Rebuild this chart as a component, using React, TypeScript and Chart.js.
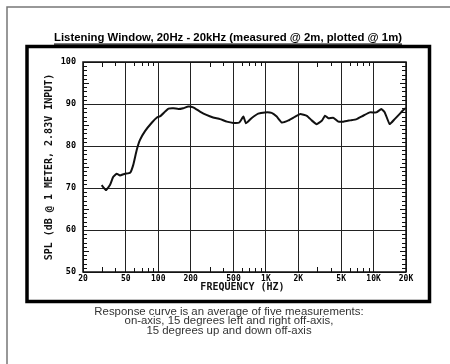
import React, { useEffect, useRef } from "react";
import { Chart, registerables } from "chart.js";

Chart.register(...registerables);

const chartTitle = "Listening Window, 20Hz - 20kHz (measured @ 2m, plotted @ 1m)";
const yAxisTitle = "SPL (dB @ 1 METER, 2.83V INPUT)";
const xAxisTitle = "FREQUENCY (HZ)";
const captionLines = [
  "Response curve is an average of five measurements:",
  "on-axis, 15 degrees left and right off-axis,",
  "15 degrees up and down off-axis",
];

const xTickValues = [20, 50, 100, 200, 500, 1000, 2000, 5000, 10000, 20000];
const xTickLabels = ["20", "50", "100", "200", "500", "1K", "2K", "5K", "10K", "20K"];
const xMinorTicks = [30, 40, 60, 70, 80, 90, 300, 400, 600, 700, 800, 900, 3000, 4000, 6000, 7000, 8000, 9000];
const yTickValues = [50, 60, 70, 80, 90, 100];

const frequencies = [
  29.8, 32.7, 35.6, 38.1, 41.1, 44.1, 49.2, 54.7, 58.6, 63, 67.5, 75.6, 87.4, 97.3, 104.5, 115.9,
  124.5, 138.5, 153.6, 170.6, 190, 211, 244, 280, 323, 375, 433, 498, 566, 618, 652, 734, 848,
  978, 1130, 1260, 1405, 1620, 1870, 2085, 2400, 2660, 2960, 3300, 3540, 3800, 4230, 4710, 5240,
  6040, 6960, 8000, 9220, 10600, 11800, 12700, 14100, 15700, 17400, 19300, 20000,
];
const splValues = [
  70.7, 69.5, 70.7, 72.6, 73.4, 73.0, 73.4, 73.6, 75.5, 79, 81.4, 83.6, 85.6, 86.8, 87.1, 88.2,
  88.9, 89.0, 88.8, 89.0, 89.4, 89.2, 88.2, 87.4, 86.8, 86.4, 85.8, 85.5, 85.6, 87.0, 85.4, 86.6,
  87.7, 88.0, 87.9, 87.0, 85.6, 86.1, 87.0, 87.6, 87.2, 86.1, 85.2, 86.0, 87.2, 86.6, 86.7, 85.8,
  85.8, 86.1, 86.4, 87.2, 88.0, 88.0, 88.8, 88.0, 85.2, 86.4, 87.6, 88.8, 89.0,
];

const W = 450;
const H = 364;

function drawStretched(ctx: CanvasRenderingContext2D, text: string, cx: number, cy: number, sx: number) {
  ctx.save();
  ctx.translate(cx, cy);
  ctx.scale(sx, 1);
  ctx.fillText(text, 0, 0);
  ctx.restore();
  return ctx.measureText(text).width * sx;
}

const decorPlugin = {
  id: "decor",
  afterDraw(chart: any) {
    const ctx = chart.ctx as CanvasRenderingContext2D;
    const area = chart.chartArea;
    const xs = chart.scales.x;
    const ys = chart.scales.y;
    ctx.save();

    // outer page frame (top & left)
    ctx.strokeStyle = "#777";
    ctx.lineWidth = 1.5;
    ctx.beginPath();
    ctx.moveTo(7, H);
    ctx.lineTo(7, 7);
    ctx.lineTo(W, 7);
    ctx.stroke();

    // thick box
    ctx.strokeStyle = "#000";
    ctx.lineWidth = 3.5;
    ctx.strokeRect(27, 46.5, 402.5, 255);

    // plot border
    ctx.lineWidth = 1.5;
    ctx.strokeStyle = "#111";
    ctx.strokeRect(area.left, area.top, area.right - area.left, area.bottom - area.top);

    // minor ticks on x (top and bottom, inward)
    ctx.lineWidth = 1;
    ctx.beginPath();
    for (const v of xMinorTicks) {
      const px = Math.round(xs.getPixelForValue(v)) + 0.5;
      const len = String(v)[0] === "3" ? 5 : 4;
      ctx.moveTo(px, area.top);
      ctx.lineTo(px, area.top + len);
      ctx.moveTo(px, area.bottom);
      ctx.lineTo(px, area.bottom - len);
    }
    // minor ticks on y (left and right, inward) every 1 dB
    for (let d = 51; d < 100; d++) {
      if (d % 10 === 0) continue;
      const py = Math.round(ys.getPixelForValue(d)) + 0.5;
      const len = d % 5 === 0 ? 6 : 4;
      ctx.moveTo(area.left, py);
      ctx.lineTo(area.left + len, py);
      ctx.moveTo(area.right, py);
      ctx.lineTo(area.right - len, py);
    }
    ctx.stroke();

    // title
    ctx.fillStyle = "#000";
    ctx.font = "bold 10.5px 'Liberation Sans', Arial, sans-serif";
    ctx.textAlign = "center";
    ctx.textBaseline = "middle";
    const tx = 228;
    const ty = 38.5;
    const tw = drawStretched(ctx, chartTitle, tx, ty, 1.08);
    ctx.fillRect(tx - tw / 2, ty + 5, tw, 1.2);

    // axis titles
    ctx.fillStyle = "#111";
    ctx.font = "bold 10px 'DejaVu Sans Mono', monospace";
    ctx.fillText(xAxisTitle, (area.left + area.right) / 2 - 2, 287);
    ctx.save();
    ctx.translate(49, (area.top + area.bottom) / 2);
    ctx.rotate(-Math.PI / 2);
    ctx.fillText(yAxisTitle, 0, 0);
    ctx.restore();

    // caption
    ctx.fillStyle = "#333";
    ctx.font = "10px 'Liberation Sans', Arial, sans-serif";
    captionLines.forEach((line, i) => {
      drawStretched(ctx, line, 229, 312 + i * 9.7, 1.14);
    });

    ctx.restore();
  },
};

export default function App() {
  const canvasRef = useRef<HTMLCanvasElement | null>(null);

  useEffect(() => {
    if (!canvasRef.current) return;
    const chart = new Chart(canvasRef.current, {
      type: "line",
      data: {
        datasets: [
          {
            data: frequencies.map((f, i) => ({ x: f, y: splValues[i] })),
            borderColor: "#111",
            borderWidth: 2,
            pointRadius: 0,
            tension: 0.12,
            fill: false,
          },
        ],
      },
      options: {
        animation: false,
        responsive: false,
        maintainAspectRatio: false,
        layout: { padding: { left: 0, top: 62, right: 44, bottom: 0 } },
        plugins: {
          legend: { display: false },
          title: { display: false },
          tooltip: { enabled: false },
        },
        scales: {
          x: {
            type: "logarithmic",
            min: 20,
            max: 20000,
            afterBuildTicks(scale: any) {
              scale.ticks = xTickValues.map((v) => ({ value: v }));
            },
            afterFit(scale: any) {
              scale.height = H - 272;
            },
            ticks: {
              autoSkip: false,
              maxRotation: 0,
              padding: 2,
              color: "#000",
              font: { family: "'DejaVu Sans Mono', monospace", size: 8, weight: "bold" },
              callback(value: any) {
                const idx = xTickValues.indexOf(Number(value));
                return idx >= 0 ? xTickLabels[idx] : "";
              },
            },
            grid: { color: "#222", lineWidth: 1, drawTicks: false },
            border: { display: false },
          },
          y: {
            type: "linear",
            min: 50,
            max: 100,
            afterBuildTicks(scale: any) {
              scale.ticks = yTickValues.map((v) => ({ value: v }));
            },
            afterFit(scale: any) {
              scale.width = 83;
            },
            ticks: {
              padding: 7,
              color: "#000",
              font: { family: "'DejaVu Sans Mono', monospace", size: 8.5, weight: "bold" },
              callback(value: any) {
                return String(value);
              },
            },
            grid: { color: "#222", lineWidth: 1, drawTicks: false },
            border: { display: false },
          },
        },
      },
      plugins: [decorPlugin],
    });
    return () => chart.destroy();
  }, []);

  return (
    <div style={{ position: "absolute", left: 0, top: 0, width: W, height: H, background: "#fff" }}>
      <canvas ref={canvasRef} width={W} height={H} style={{ display: "block", width: W, height: H }} />
    </div>
  );
}
